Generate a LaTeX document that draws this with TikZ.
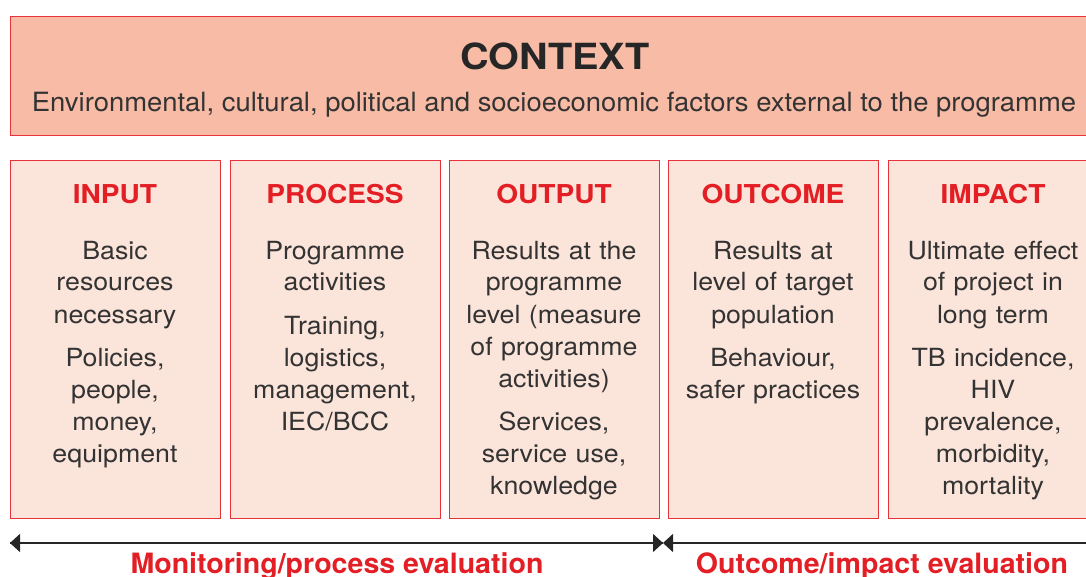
\documentclass[tikz,border=0pt]{standalone}
\usepackage{fontspec}
\setmainfont{TeX Gyre Heros}
\newfontfamily\bodyfont[FakeStretch=1.07]{TeX Gyre Heros}
\newfontfamily\subfont[FakeStretch=1.035]{TeX Gyre Heros}
\newfontfamily\headfont[FakeStretch=1.08]{TeX Gyre Heros}
\newfontfamily\ctxfont[FakeStretch=1.1]{TeX Gyre Heros}
\newfontfamily\evalfont[FakeStretch=1.02]{TeX Gyre Heros}
\usetikzlibrary{arrows.meta}
\definecolor{ctxfill}{HTML}{F7BBA6}
\definecolor{boxfill}{HTML}{FBE4DA}
\definecolor{redline}{HTML}{E8323C}
\definecolor{redtext}{HTML}{E31E24}
\definecolor{bodytext}{HTML}{333333}
\tikzset{
  stagebox/.style={draw=redline, line width=1pt, fill=boxfill, minimum width=210pt, minimum height=358pt, inner sep=0pt},
  stagetitle/.style={anchor=base, text=redtext, font=\headfont\fontsize{26}{30}\selectfont\bfseries, inner sep=0pt},
  stagebody/.style={anchor=base, text=bodytext, text width=208pt, align=center, font=\bodyfont\fontsize{25}{32}\selectfont, inner sep=0pt},
  evallabel/.style={anchor=base, text=redtext, font=\evalfont\fontsize{28}{32}\selectfont\bfseries, inner sep=0pt},
  evalarrow/.style={line width=1.4pt, draw=black!85, -{Triangle[length=10pt,width=18pt]}},
}
\begin{document}
\begin{tikzpicture}[x=1pt,y=-1pt]
\useasboundingbox (0,0) rectangle (1086,577);
\clip (0,0) rectangle (1086,577);
% context
\node[draw=redline, line width=1pt, fill=ctxfill, minimum width=1090pt, minimum height=119pt, inner sep=0pt, anchor=north west] (ctx) at (10,16) {};
\node[anchor=base, text=black!85, font=\ctxfont\fontsize{36}{40}\selectfont\bfseries, inner sep=0pt] (ctxtitle) at (555,70) {CONTEXT};
\node[anchor=base, text=bodytext, font=\subfont\fontsize{26.5}{30}\selectfont, inner sep=0pt] (ctxsub) at (554,112) {Environmental, cultural, political and socioeconomic factors external to the programme};
% stage boxes
\node[stagebox, anchor=north west] (in) at (10,160) {};
\node[stagebox, anchor=north west] (pr) at (230,160) {};
\node[stagebox, anchor=north west] (ou) at (449,160) {};
\node[stagebox, anchor=north west] (oc) at (668,160) {};
\node[stagebox, anchor=north west] (im) at (888,160) {};
% titles
\node[stagetitle] (intitle) at (115,204) {INPUT};
\node[stagetitle] (prtitle) at (335,204) {PROCESS};
\node[stagetitle] (outitle) at (554,204) {OUTPUT};
\node[stagetitle] (octitle) at (773,204) {OUTCOME};
\node[stagetitle] (imtitle) at (993,204) {IMPACT};
% bodies
\node[stagebody] (inbody) at (115,259) {Basic\\resources\\necessary\\[11pt]Policies,\\people,\\money,\\equipment};
\node[stagebody] (prbody) at (335,259) {Programme\\activities\\[11pt]Training,\\logistics,\\management,\\IEC/BCC};
\node[stagebody] (oubody) at (554,259) {Results at the\\programme\\level (measure\\of programme\\activities)\\[11pt]Services,\\service use,\\knowledge};
\node[stagebody] (ocbody) at (773,259) {Results at\\level of target\\population\\[11pt]Behaviour,\\safer practices};
\node[stagebody] (imbody) at (993,259) {Ultimate effect\\of project in\\long term\\[11pt]TB incidence,\\HIV\\prevalence,\\morbidity,\\mortality};
% evaluation arrows
\coordinate (leftend) at (10,543);
\coordinate (mid) at (663,543);
\coordinate (rightend) at (1100,543);
\draw[evalarrow] (mid) -- (leftend);
\draw[evalarrow] (leftend) -- (mid);
\draw[evalarrow] (rightend) -- (mid);
\node[evallabel] (monlabel) at (337,573) {Monitoring/process evaluation};
\node[evallabel] (outlabel) at (882,573) {Outcome/impact evaluation};
\end{tikzpicture}
\end{document}
